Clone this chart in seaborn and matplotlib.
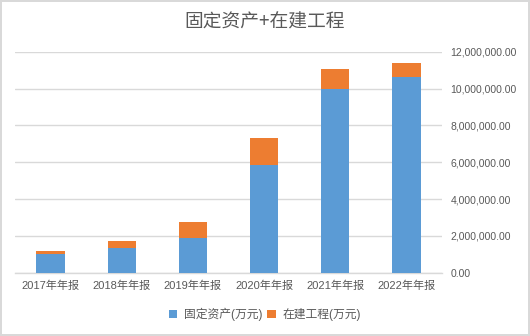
import matplotlib
matplotlib.use("Agg")
import matplotlib.pyplot as plt
import seaborn as sns
import pandas as pd
from matplotlib.patches import Patch
from matplotlib.ticker import FuncFormatter

categories = ["2017年年报", "2018年年报", "2019年年报", "2020年年报", "2021年年报", "2022年年报"]
fixed_assets = [1030000, 1360000, 1870000, 5850000, 9960000, 10610000]
construction = [150000, 360000, 880000, 1460000, 1080000, 760000]
series_names = ["固定资产(万元)", "在建工程(万元)"]
title = "固定资产+在建工程"
yticks = [0, 2000000, 4000000, 6000000, 8000000, 10000000, 12000000]

sns.set_theme(style="white")
plt.rcParams['font.family'] = ['Liberation Sans', 'Noto Sans CJK SC', 'DejaVu Sans']

BLUE = "#5B9BD5"
ORANGE = "#ED7D31"
TXT = "#595959"
GRID = "#D9D9D9"

df = pd.DataFrame({
    "cat": categories,
    "fixed": fixed_assets,
    "total": [a + b for a, b in zip(fixed_assets, construction)],
})

fig = plt.figure(figsize=(5.3, 3.36), dpi=100, edgecolor=GRID, linewidth=1.5)
ax = fig.add_axes([0.0283, 0.1884, 0.834 - 0.0283, 0.846 - 0.1884])

sns.barplot(data=df, x="cat", y="total", color=ORANGE, saturation=1, width=0.4, ax=ax,
            zorder=3, linewidth=0)
sns.barplot(data=df, x="cat", y="fixed", color=BLUE, saturation=1, width=0.4, ax=ax,
            zorder=3, linewidth=0)

ax.set_ylim(0, 12000000)
ax.set_xlim(-0.5, len(categories) - 0.5)
ax.set_yticks(yticks)
ax.yaxis.set_major_formatter(FuncFormatter(lambda v, p: f"{v:,.2f}"))
ax.yaxis.tick_right()
ax.tick_params(axis='y', length=0, labelsize=7.5, colors=TXT, pad=6)
ax.tick_params(axis='x', length=0, labelsize=8, colors=TXT, pad=6)
ax.set_xlabel("")
ax.set_ylabel("")
ax.grid(axis='y', color=GRID, linewidth=1, zorder=0)
ax.set_axisbelow(True)
for s in ["top", "left", "right"]:
    ax.spines[s].set_visible(False)
ax.spines["bottom"].set_color(GRID)
ax.spines["bottom"].set_linewidth(1)

fig.text(0.5, 0.935, title, ha='center', va='center', fontsize=13.5, color=TXT,
         family=['Noto Sans CJK SC', 'DejaVu Sans'])

handles = [Patch(facecolor=BLUE, edgecolor='none'), Patch(facecolor=ORANGE, edgecolor='none')]
fig.legend(handles, series_names, loc='center', bbox_to_anchor=(0.5, 0.063), ncol=2,
           frameon=False, fontsize=8.5, labelcolor=TXT, handlelength=0.7, handleheight=0.7,
           handletextpad=0.6, columnspacing=0.4)

fig.savefig("out.png", dpi=100, edgecolor=fig.get_edgecolor(), facecolor='white')
